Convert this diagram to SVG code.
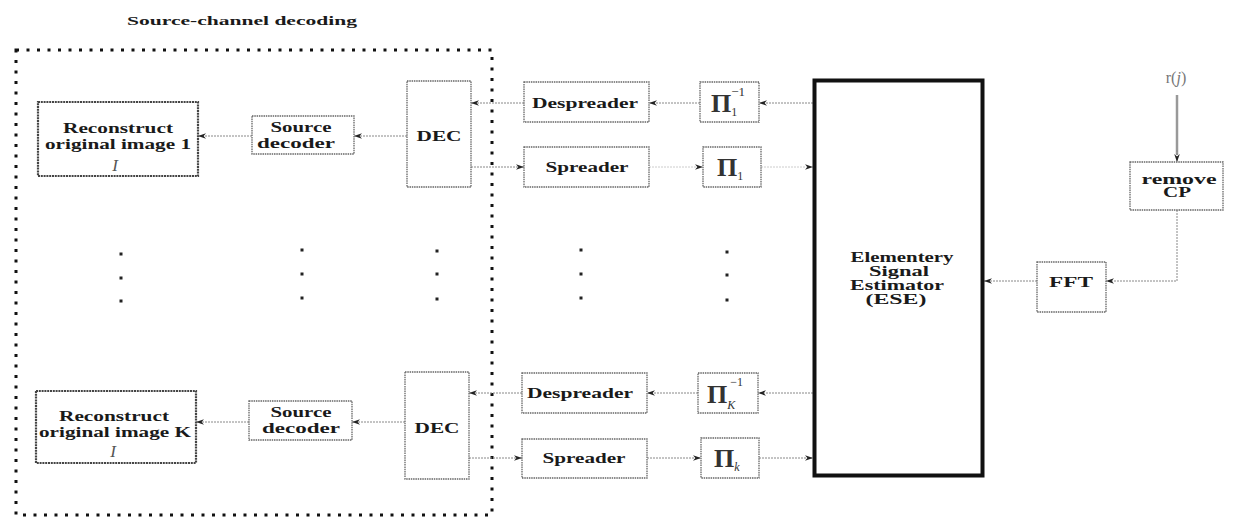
<svg xmlns="http://www.w3.org/2000/svg" width="1233" height="528" viewBox="0 0 1233 528">
<defs>
<marker id="ah" viewBox="0 0 10 10" refX="10" refY="5" markerWidth="8" markerHeight="8" orient="auto" markerUnits="userSpaceOnUse">
<path d="M0,1.5 L10,5 L0,8.5 L3,5 Z" fill="#222"/>
</marker>
</defs>
<style>
.t{font-family:"Liberation Serif","Times New Roman",serif;font-weight:bold;fill:#1a1a1a;text-anchor:middle;dominant-baseline:central}
.it{font-family:"Liberation Serif","Times New Roman",serif;font-style:italic;font-weight:normal;fill:#555;text-anchor:middle;dominant-baseline:central}
.box{fill:#fff;stroke:#666;stroke-width:1.3;stroke-dasharray:1.5 0.8}
.rbox{fill:#fff;stroke:#444;stroke-width:2.2;stroke-dasharray:2 0.8}
.pi{font-family:"Liberation Serif","Times New Roman",serif;fill:#333;dominant-baseline:auto}
.pig{font-weight:bold}
.c{fill:none;stroke:#888;stroke-width:1;stroke-dasharray:2 1;marker-end:url(#ah)}
.cf{fill:none;stroke:#ccc;stroke-width:1;stroke-dasharray:2 1;marker-end:url(#ah)}
.dot{fill:#222}
</style>
<rect width="1233" height="528" fill="#fff"/>
<text class="t" x="242" y="20" font-size="13" textLength="230" lengthAdjust="spacingAndGlyphs">Source-channel decoding</text>
<rect x="16" y="50" width="476" height="465" fill="none" stroke="#111" stroke-width="3" stroke-dasharray="3 7.5"/>

<g id="connectors">
<line class="c" x1="524" y1="103" x2="471" y2="103"/>
<line class="c" x1="700" y1="103" x2="649" y2="103"/>
<line class="c" x1="813" y1="103" x2="759" y2="103"/>
<line class="c" x1="407" y1="136" x2="354" y2="136"/>
<line class="c" x1="252" y1="136" x2="198" y2="136"/>
<line class="c" x1="471" y1="167" x2="524" y2="167"/>
<line class="cf" x1="649" y1="167" x2="703" y2="167"/>
<line class="cf" x1="761" y1="167" x2="813" y2="167"/>
<line x1="1177" y1="95" x2="1177" y2="155" stroke="#999" stroke-width="2.5"/>
<line class="c" x1="1177" y1="150" x2="1177" y2="162" stroke="#666"/>
<polyline class="c" points="1177,210 1177,281 1106,281"/>
<line class="c" x1="1037" y1="281" x2="984" y2="281"/>
<line class="c" x1="813" y1="393" x2="758" y2="393"/>
<line class="c" x1="698" y1="393" x2="647" y2="393"/>
<line class="c" x1="522" y1="393" x2="469" y2="393"/>
<line class="c" x1="405" y1="422" x2="352" y2="422"/>
<line class="c" x1="249" y1="422" x2="196" y2="422"/>
<line class="c" x1="469" y1="458" x2="522" y2="458"/>
<line class="c" x1="647" y1="458" x2="701" y2="458"/>
<line class="c" x1="759" y1="458" x2="813" y2="458"/>
</g>

<g id="reconstruct1">
<rect class="rbox" x="38" y="102" width="160" height="74"/>
<text class="t" x="118" y="128" font-size="14" textLength="110" lengthAdjust="spacingAndGlyphs">Reconstruct</text>
<text class="t" x="118" y="144" font-size="14" textLength="146" lengthAdjust="spacingAndGlyphs">original image 1</text>
<text class="it" x="115" y="165" font-size="17">I</text>
</g>
<g id="srcdec1">
<rect class="box" x="252" y="116" width="102" height="38"/>
<text class="t" x="301" y="127" font-size="14" textLength="61" lengthAdjust="spacingAndGlyphs">Source</text>
<text class="t" x="296" y="143" font-size="14" textLength="78" lengthAdjust="spacingAndGlyphs">decoder</text>
</g>
<g id="dec1">
<rect class="box" x="407" y="81" width="64" height="106"/>
<text class="t" x="439" y="136" font-size="15" textLength="45" lengthAdjust="spacingAndGlyphs">DEC</text>
</g>
<g id="despreader1">
<rect class="box" x="524" y="82" width="125" height="40"/>
<text class="t" x="585" y="103" font-size="14" textLength="106" lengthAdjust="spacingAndGlyphs">Despreader</text>
</g>
<g id="spreader1">
<rect class="box" x="524" y="147" width="125" height="40"/>
<text class="t" x="587" y="167" font-size="14" textLength="83" lengthAdjust="spacingAndGlyphs">Spreader</text>
</g>
<g id="pi1inv">
<rect class="box" x="700" y="82" width="59" height="40"/>
<text class="pi" x="711" y="112" font-size="26"><tspan class="pig">Π</tspan><tspan font-size="12" dy="4">1</tspan><tspan font-size="13" dx="-6" dy="-20">−1</tspan></text>
</g>
<g id="pi1">
<rect class="box" x="703" y="147" width="58" height="40"/>
<text class="pi" x="717" y="176" font-size="26"><tspan class="pig">Π</tspan><tspan font-size="12" dy="4">1</tspan></text>
</g>
<g id="ese">
<rect x="814.5" y="80.5" width="168" height="395" fill="#fff" stroke="#111" stroke-width="4"/>
<text class="t" x="902" y="257" font-size="14" textLength="103" lengthAdjust="spacingAndGlyphs">Elementery</text>
<text class="t" x="899" y="271" font-size="14" textLength="60" lengthAdjust="spacingAndGlyphs">Signal</text>
<text class="t" x="897" y="285" font-size="14" textLength="94" lengthAdjust="spacingAndGlyphs">Estimator</text>
<text class="t" x="896" y="299" font-size="14" textLength="61" lengthAdjust="spacingAndGlyphs">(ESE)</text>
</g>
<g id="rj">
<text x="1176" y="83" font-family="Liberation Serif, serif" font-size="16" fill="#777" text-anchor="middle">r(<tspan font-style="italic">j</tspan>)</text>
</g>
<g id="removecp">
<rect class="box" x="1130" y="162" width="93" height="48"/>
<text class="t" x="1179" y="179" font-size="14" textLength="75" lengthAdjust="spacingAndGlyphs">remove</text>
<text class="t" x="1177" y="192" font-size="14" textLength="28" lengthAdjust="spacingAndGlyphs">CP</text>
</g>
<g id="fft">
<rect class="box" x="1037" y="262" width="69" height="50"/>
<text class="t" x="1071" y="282" font-size="14" textLength="44" lengthAdjust="spacingAndGlyphs">FFT</text>
</g>

<g id="ellipses">
<rect class="dot" x="119.5" y="252.5" width="3" height="3"/><rect class="dot" x="119.5" y="276.5" width="3" height="3"/><rect class="dot" x="119.5" y="299.5" width="3" height="3"/>
<rect class="dot" x="300.5" y="248.5" width="3" height="3"/><rect class="dot" x="300.5" y="272.5" width="3" height="3"/><rect class="dot" x="300.5" y="296.5" width="3" height="3"/>
<rect class="dot" x="435.5" y="249.5" width="3" height="3"/><rect class="dot" x="435.5" y="272.5" width="3" height="3"/><rect class="dot" x="435.5" y="297.5" width="3" height="3"/>
<rect class="dot" x="579.5" y="248.5" width="3" height="3"/><rect class="dot" x="579.5" y="272.5" width="3" height="3"/><rect class="dot" x="579.5" y="296.5" width="3" height="3"/>
<rect class="dot" x="725.5" y="250.5" width="3" height="3"/><rect class="dot" x="725.5" y="273.5" width="3" height="3"/><rect class="dot" x="725.5" y="298.5" width="3" height="3"/>
</g>

<g id="reconstructK">
<rect class="rbox" x="36" y="391" width="160" height="72"/>
<text class="t" x="114" y="416" font-size="14" textLength="110" lengthAdjust="spacingAndGlyphs">Reconstruct</text>
<text class="t" x="115" y="432" font-size="14" textLength="152" lengthAdjust="spacingAndGlyphs">original image K</text>
<text class="it" x="113" y="451" font-size="17">I</text>
</g>
<g id="srcdecK">
<rect class="box" x="249" y="401" width="103" height="39"/>
<text class="t" x="301" y="412" font-size="14" textLength="61" lengthAdjust="spacingAndGlyphs">Source</text>
<text class="t" x="301" y="428" font-size="14" textLength="78" lengthAdjust="spacingAndGlyphs">decoder</text>
</g>
<g id="decK">
<rect class="box" x="405" y="372" width="64" height="107"/>
<text class="t" x="437" y="428" font-size="15" textLength="45" lengthAdjust="spacingAndGlyphs">DEC</text>
</g>
<g id="despreaderK">
<rect class="box" x="522" y="373" width="125" height="40"/>
<text class="t" x="580" y="393" font-size="14" textLength="106" lengthAdjust="spacingAndGlyphs">Despreader</text>
</g>
<g id="spreaderK">
<rect class="box" x="522" y="439" width="125" height="39"/>
<text class="t" x="584" y="458" font-size="14" textLength="83" lengthAdjust="spacingAndGlyphs">Spreader</text>
</g>
<g id="piKinv">
<rect class="box" x="698" y="373" width="60" height="40"/>
<text class="pi" x="707" y="403" font-size="26"><tspan class="pig">Π</tspan><tspan font-size="12" font-style="italic" dy="6">K</tspan><tspan font-size="12" dx="-5" dy="-23">−1</tspan></text>
</g>
<g id="piK">
<rect class="box" x="701" y="438" width="58" height="40"/>
<text class="pi" x="714" y="467" font-size="26"><tspan class="pig">Π</tspan><tspan font-size="12" font-style="italic" dy="4">k</tspan></text>
</g>
</svg>
